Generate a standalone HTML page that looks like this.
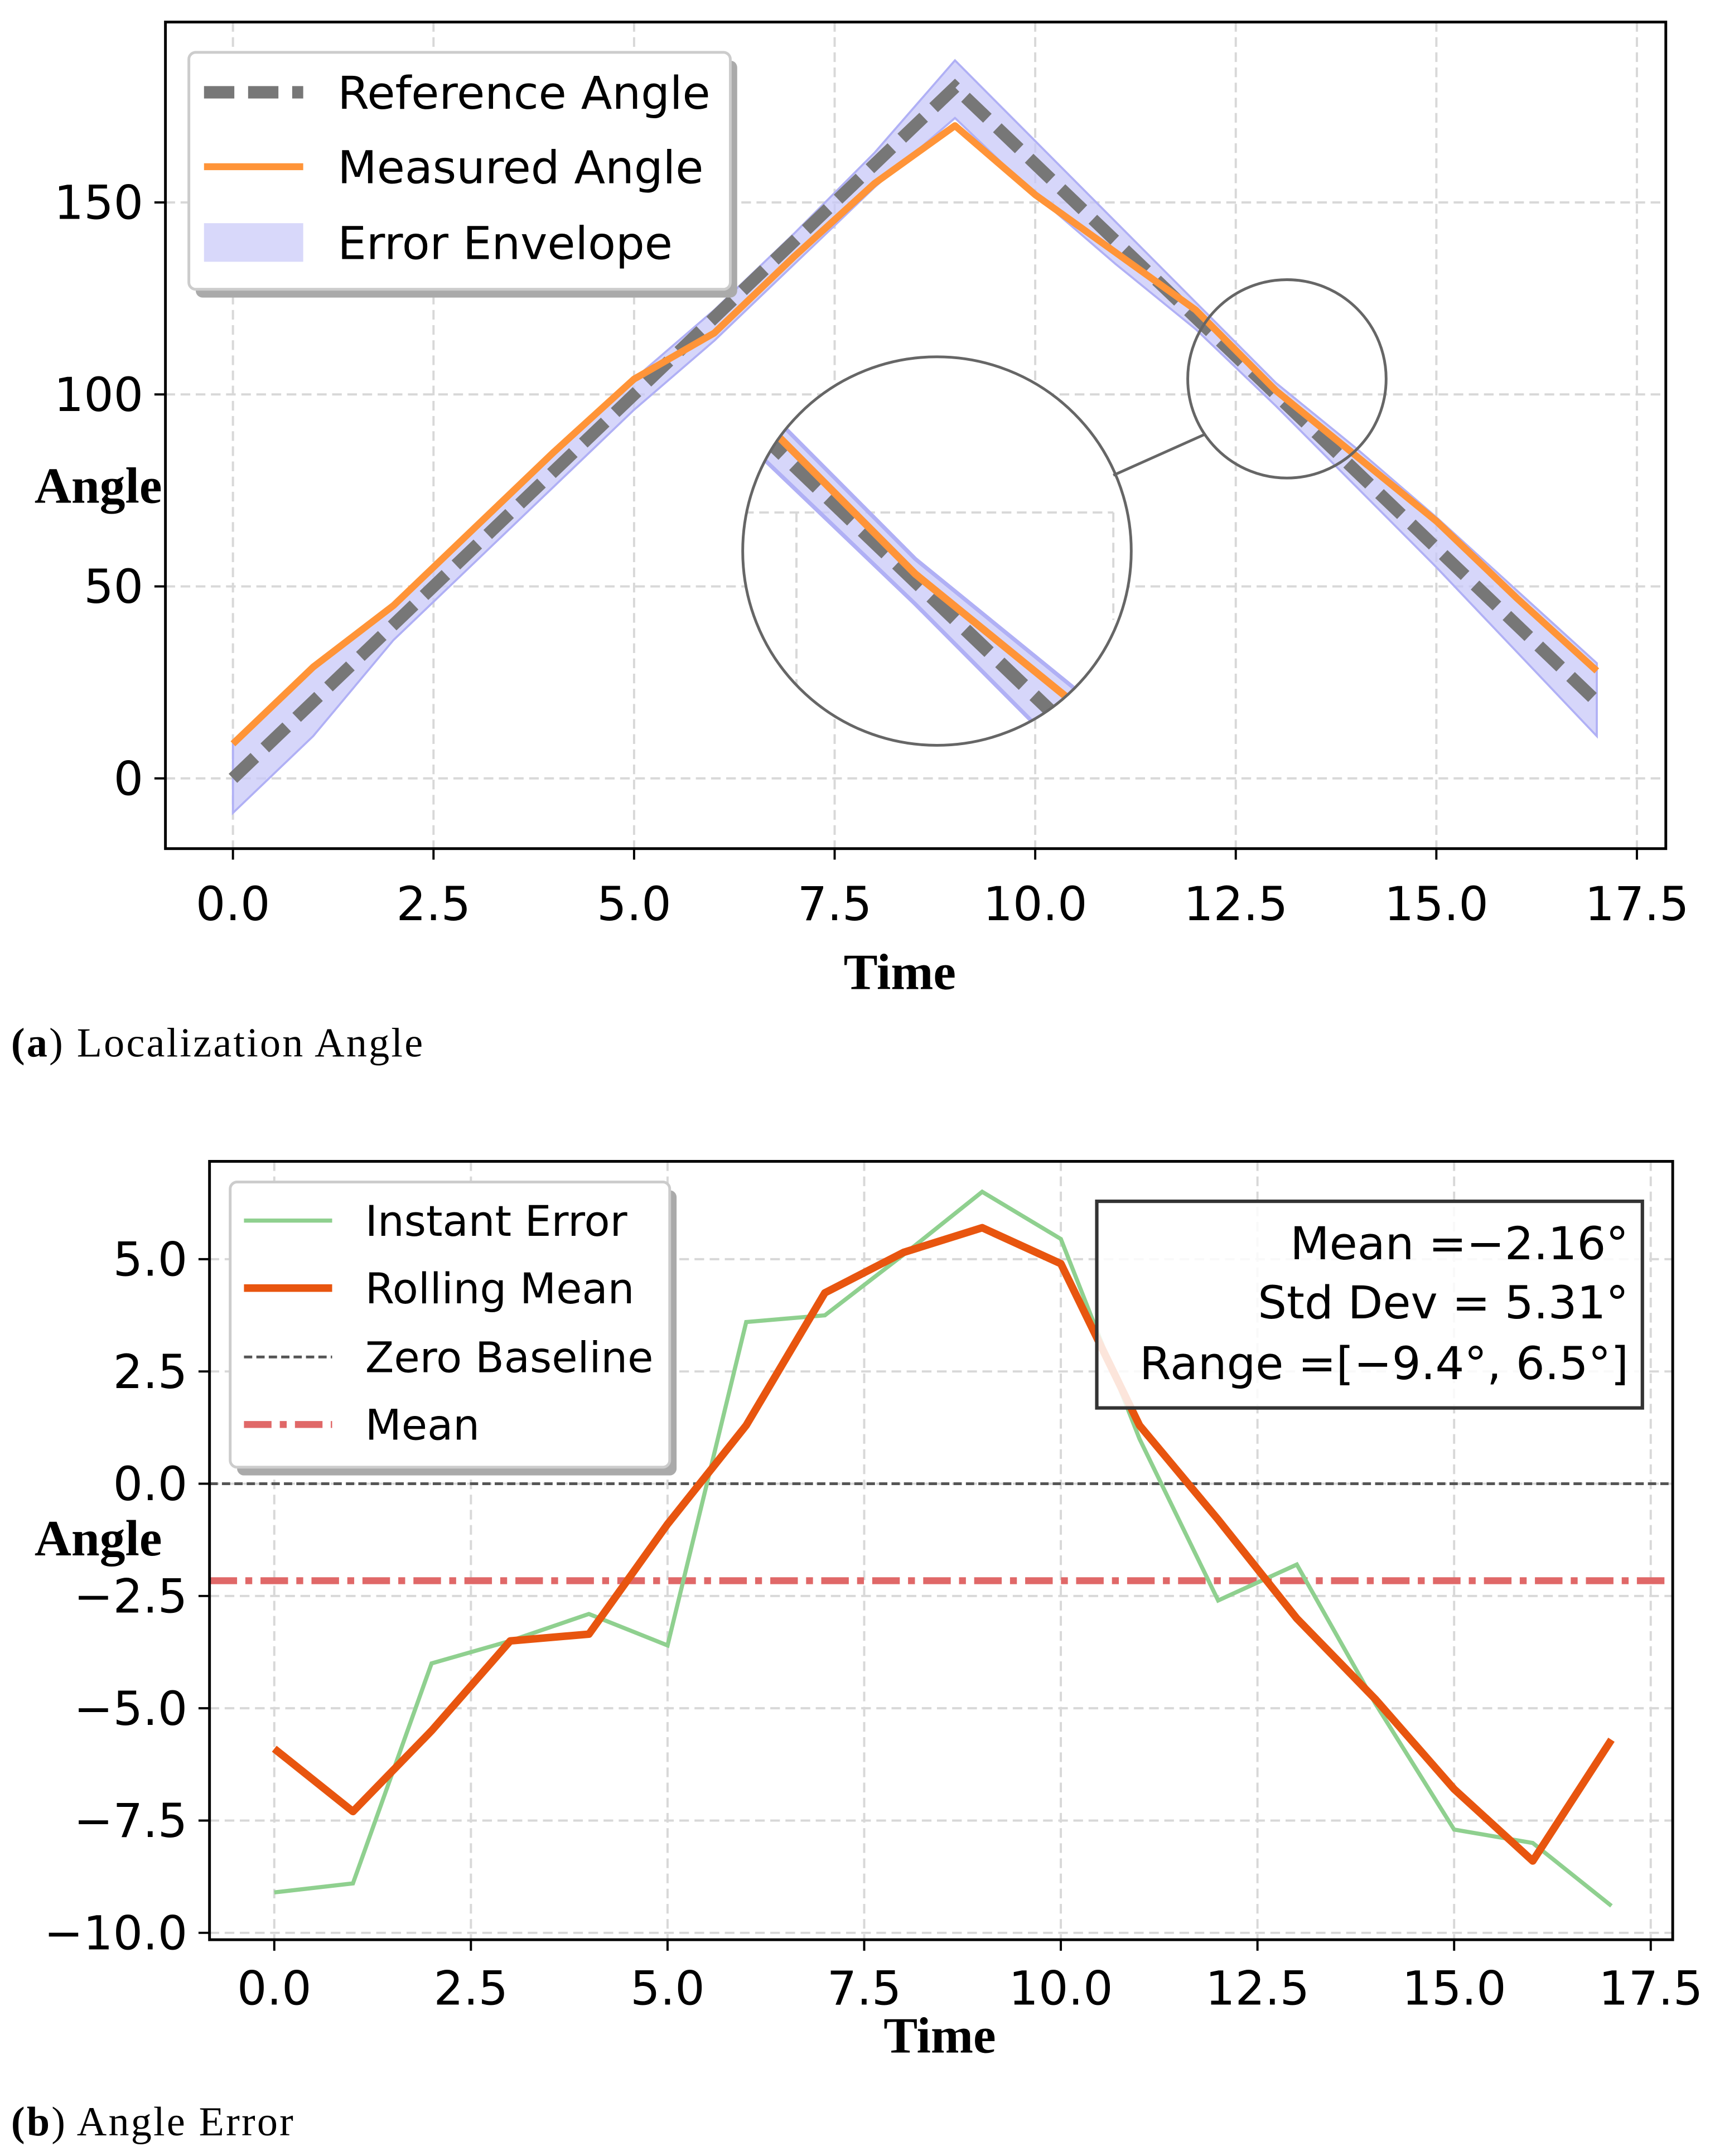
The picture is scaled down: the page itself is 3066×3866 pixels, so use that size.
<!DOCTYPE html>
<html><head><meta charset="utf-8"><style>
html,body{margin:0;padding:0;background:#fff}
svg{display:block}
.tk{font-family:"DejaVu Sans","Liberation Sans",sans-serif;font-size:34px;fill:#000}
.lg{font-family:"DejaVu Sans","Liberation Sans",sans-serif;font-size:33px;fill:#000}
.lgb{font-family:"DejaVu Sans","Liberation Sans",sans-serif;font-size:30.5px;fill:#000}
.at{font-family:"Liberation Serif",serif;font-size:37px;font-weight:bold;fill:#000}
.cap{font-family:"Liberation Serif",serif;font-size:30px;letter-spacing:1.3px;fill:#000}
.grid{stroke:#d8d8d8;stroke-width:1.6;stroke-dasharray:7,4;fill:none}
</style></head><body>
<svg id="root" width="3066" height="3866" viewBox="0 0 1241 1565" xmlns="http://www.w3.org/2000/svg">
<defs>
<clipPath id="clipA"><rect x="120" y="16" width="1089" height="600"/></clipPath>
<clipPath id="clipB"><rect x="152" y="843" width="1062" height="565"/></clipPath>
<clipPath id="zoomClip"><circle cx="680" cy="400" r="141"/></clipPath>
</defs>
<g id="chartA"></g>
<g id="chartB"></g>
<text class="cap" x="8" y="767"><tspan font-weight="bold">(a</tspan>) Localization Angle</text>
<text class="cap" x="8" y="1550"><tspan font-weight="bold">(b</tspan>) Angle Error</text>
</svg>
<script>
// ---- Chart A data ----
const timeA = [0,1,2,3,4,5,6,7,8,9,10,11,12,13,14,15,16,17];
const refAngle = [0,20,40,60,80,100,120,140,160,180,160,140,120,100,80,60,40,20];
const measAngle = [9,29,45,65,85,104,116,136,155,170,152,137,122,101,84,67,47,28];
const envLower = [-9,11,36,56,76,96,114,134,154,172,152,134,117,97,76,55,33,11];
const envUpper = [9,29,45,65,85,104,122,142,163,187,166,145,124,103,86,68,49,30];
const xTicksA = [0,2.5,5,7.5,10,12.5,15,17.5];
const yTicksA = [0,50,100,150];
// ---- Chart B data ----
const timeB = [0,1,2,3,4,5,6,7,8,9,10,11,12,13,14,15,16,17];
const instantErr = [-9.1,-8.9,-4.0,-3.5,-2.9,-3.6,3.6,3.75,5.1,6.5,5.45,1.0,-2.6,-1.8,-4.9,-7.7,-8.0,-9.4];
const rollingMean = [-5.9,-7.3,-5.5,-3.5,-3.35,-0.9,1.3,4.25,5.15,5.7,4.9,1.3,-0.8,-3.0,-4.8,-6.8,-8.4,-5.7];
const meanVal = [-2.16];
const xTicksB = [0,2.5,5,7.5,10,12.5,15,17.5];
const yTicksB = [-10,-7.5,-5,-2.5,0,2.5,5];
const yTickLabelsB = ["\u221210.0","\u22127.5","\u22125.0","\u22122.5","0.0","2.5","5.0"];

const NS="http://www.w3.org/2000/svg";
function mk(parent,tag,attrs,text){const e=document.createElementNS(NS,tag);for(const k in attrs)e.setAttribute(k,attrs[k]);if(text!==undefined)e.textContent=text;parent.appendChild(e);return e;}

// ===== Chart A =====
const A=document.getElementById('chartA');
const xA=t=>169+t*58.23, yA=v=>565-v*2.787;
const gridA=mk(A,'g',{});


xTicksA.forEach(t=>mk(gridA,'line',{x1:xA(t),x2:xA(t),y1:16,y2:616,class:'grid'}));
yTicksA.forEach(v=>mk(gridA,'line',{x1:120,x2:1209,y1:yA(v),y2:yA(v),class:'grid'}));
function drawA(g,sw){
  let env='M'+timeA.map((t,i)=>xA(t)+','+yA(envUpper[i])).join('L')+'L'+timeA.slice().reverse().map((t,j)=>{const i=timeA.length-1-j;return xA(t)+','+yA(envLower[i]);}).join('L')+'Z';
  const e=mk(g,'path',{d:env,fill:'#c8c8f8','fill-opacity':0.75,stroke:'#b0b0f5','stroke-width':1.5});
  
  
  const r=mk(g,'polyline',{points:timeA.map((t,i)=>xA(t)+','+yA(refAngle[i])).join(' '),fill:'none',stroke:'#777','stroke-width':9*sw,'stroke-dasharray':(22*sw)+','+(10*sw)});
  
  
  const m=mk(g,'polyline',{points:timeA.map((t,i)=>xA(t)+','+yA(measAngle[i])).join(' '),fill:'none',stroke:'#ff9438','stroke-width':5*sw,'stroke-linejoin':'round'});
  
  
}
const dataA=mk(A,'g',{'clip-path':'url(#clipA)'});


drawA(dataA,1);
mk(A,'rect',{x:120,y:16,width:1089,height:600,fill:'none',stroke:'#000','stroke-width':2});
xTicksA.forEach(t=>{mk(A,'line',{x1:xA(t),x2:xA(t),y1:616,y2:624,stroke:'#000','stroke-width':1.6});
  const l=mk(A,'text',{x:xA(t),y:668,class:'tk','text-anchor':'middle'},t.toFixed(1));
  
  });
yTicksA.forEach(v=>{mk(A,'line',{x1:112,x2:120,y1:yA(v),y2:yA(v),stroke:'#000','stroke-width':1.6});
  const l=mk(A,'text',{x:104,y:yA(v)+12,class:'tk','text-anchor':'end'},String(v));
  
  });
const xtA=mk(A,'text',{x:653,y:718,class:'at','text-anchor':'middle'},'Time');


const ytA=mk(A,'text',{x:25,y:365,class:'at'},'Angle');


// zoom inset
const zc=mk(A,'g',{'clip-path':'url(#zoomClip)'});


mk(zc,'circle',{cx:680,cy:400,r:141,fill:'#fff'});
mk(zc,'line',{x1:540,x2:808,y1:372,y2:372,class:'grid','stroke-width':3});
mk(zc,'line',{x1:578,x2:578,y1:372,y2:540,class:'grid','stroke-width':3});
mk(zc,'line',{x1:808,x2:808,y1:372,y2:450,class:'grid','stroke-width':3});
const zg=mk(zc,'g',{transform:'translate(680,400) scale(1.96) translate(-934,-275)'});
drawA(zg,0.55);
mk(A,'circle',{cx:680,cy:400,r:141,fill:'none',stroke:'#666','stroke-width':2});
mk(A,'circle',{cx:934,cy:275,r:72,fill:'none',stroke:'#666','stroke-width':2});
mk(A,'line',{x1:808,y1:345,x2:875,y2:315,stroke:'#666','stroke-width':2});
// legend A
const lgA=mk(A,'g',{});


mk(lgA,'rect',{x:142,y:44,width:393,height:172,rx:5,fill:'#aaa'});
mk(lgA,'rect',{x:137,y:38,width:393,height:172,rx:5,fill:'#fff',stroke:'#ccc','stroke-width':2});
mk(lgA,'line',{x1:148,x2:220,y1:67,y2:67,stroke:'#777','stroke-width':9,'stroke-dasharray':'22,10'});
mk(lgA,'text',{x:245,y:79,class:'lg'},'Reference Angle');
mk(lgA,'line',{x1:148,x2:220,y1:121,y2:121,stroke:'#ff9438','stroke-width':5});
mk(lgA,'text',{x:245,y:133,class:'lg'},'Measured Angle');
mk(lgA,'rect',{x:148,y:162,width:72,height:28,fill:'#d8d8fa'});
mk(lgA,'text',{x:245,y:188,class:'lg'},'Error Envelope');

// ===== Chart B =====
const B=document.getElementById('chartB');
const xB=t=>199+t*57.09, yB=v=>1077-v*32.6;
const gridB=mk(B,'g',{});


xTicksB.forEach(t=>mk(gridB,'line',{x1:xB(t),x2:xB(t),y1:843,y2:1408,class:'grid'}));
yTicksB.forEach(v=>mk(gridB,'line',{x1:152,x2:1214,y1:yB(v),y2:yB(v),class:'grid'}));
const dataB=mk(B,'g',{'clip-path':'url(#clipB)'});


const zl=mk(dataB,'line',{x1:152,x2:1214,y1:yB(0),y2:yB(0),stroke:'#555','stroke-width':2,'stroke-dasharray':'6,3'});


const ml=mk(dataB,'line',{x1:152,x2:1214,y1:yB(meanVal[0]),y2:yB(meanVal[0]),stroke:'#e06868','stroke-width':5,'stroke-dasharray':'20,6,5,6'});


const il=mk(dataB,'polyline',{points:timeB.map((t,i)=>xB(t)+','+yB(instantErr[i])).join(' '),fill:'none',stroke:'#8fd08f','stroke-width':3});


const rl=mk(dataB,'polyline',{points:timeB.map((t,i)=>xB(t)+','+yB(rollingMean[i])).join(' '),fill:'none',stroke:'#e8550f','stroke-width':5.5,'stroke-linejoin':'round'});


mk(B,'rect',{x:152,y:843,width:1062,height:565,fill:'none',stroke:'#000','stroke-width':2});
xTicksB.forEach(t=>{mk(B,'line',{x1:xB(t),x2:xB(t),y1:1408,y2:1416,stroke:'#000','stroke-width':1.6});
  const l=mk(B,'text',{x:xB(t),y:1455,class:'tk','text-anchor':'middle'},t.toFixed(1));
  
  });
yTicksB.forEach((v,i)=>{mk(B,'line',{x1:144,x2:152,y1:yB(v),y2:yB(v),stroke:'#000','stroke-width':1.6});
  const l=mk(B,'text',{x:136,y:yB(v)+12,class:'tk','text-anchor':'end'},yTickLabelsB[i]);
  
  });
const xtB=mk(B,'text',{x:682,y:1490,class:'at','text-anchor':'middle'},'Time');


const ytB=mk(B,'text',{x:25,y:1129,class:'at'},'Angle');


// legend B
const lgB=mk(B,'g',{});


mk(lgB,'rect',{x:172,y:864,width:319,height:207,rx:5,fill:'#aaa'});
mk(lgB,'rect',{x:167,y:858,width:319,height:207,rx:5,fill:'#fff',stroke:'#ccc','stroke-width':2});
mk(lgB,'line',{x1:177,x2:241,y1:886,y2:886,stroke:'#8fd08f','stroke-width':3});
mk(lgB,'text',{x:265,y:897,class:'lgb'},'Instant Error');
mk(lgB,'line',{x1:177,x2:241,y1:935,y2:935,stroke:'#e8550f','stroke-width':5.5});
mk(lgB,'text',{x:265,y:946,class:'lgb'},'Rolling Mean');
mk(lgB,'line',{x1:177,x2:241,y1:985,y2:985,stroke:'#555','stroke-width':2,'stroke-dasharray':'6,3'});
mk(lgB,'text',{x:265,y:996,class:'lgb'},'Zero Baseline');
mk(lgB,'line',{x1:177,x2:241,y1:1034,y2:1034,stroke:'#e06868','stroke-width':5,'stroke-dasharray':'20,6,5,6'});
mk(lgB,'text',{x:265,y:1045,class:'lgb'},'Mean');
// stats box
const sb=mk(B,'g',{});


mk(sb,'rect',{x:796,y:872,width:396,height:150,fill:'#fff','fill-opacity':0.85,stroke:'#333','stroke-width':2.5});
mk(sb,'text',{x:1182,y:914,class:'lg','text-anchor':'end','font-size':37},'Mean =\u22122.16\u00b0');
mk(sb,'text',{x:1182,y:957,class:'lg','text-anchor':'end','font-size':37},'Std Dev = 5.31\u00b0');
mk(sb,'text',{x:1182,y:1001,class:'lg','text-anchor':'end','font-size':37},'Range =[\u22129.4\u00b0, 6.5\u00b0]');
</script>
</body></html>
